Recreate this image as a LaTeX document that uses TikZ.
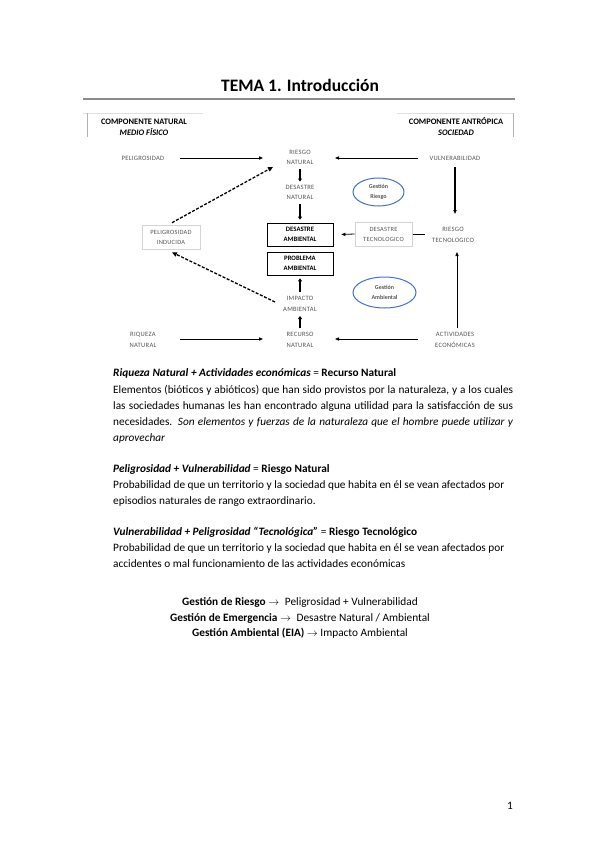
\documentclass[tikz,border=0pt]{standalone}
\usepackage{fontspec}
\setmainfont{Carlito}
\newfontfamily\lblfont[LetterSpace=4]{Carlito}
\usetikzlibrary{calc,arrows.meta,shapes.geometric}
\definecolor{dgray}{HTML}{555555}
\definecolor{lgray}{HTML}{D4D4D4}
\definecolor{eblue}{HTML}{4472C4}
\definecolor{rulegray}{HTML}{8C8C8C}
\begin{document}
\begin{tikzpicture}[x=1pt,y=-1pt,
  lbl/.style={font=\lblfont\fontsize{6.6}{10.5}\selectfont, text=dgray, align=center, inner sep=1pt},
  comp/.style={font=\bfseries\fontsize{8.4}{11}\selectfont, align=center, inner sep=0pt},
  boxb/.style={draw=black, line width=0.7pt, minimum width=66pt, minimum height=23pt, font=\bfseries\fontsize{6.7}{10}\selectfont, align=center, inner sep=0pt},
  boxg/.style={draw=lgray, line width=0.6pt, font=\lblfont\fontsize{6.4}{10}\selectfont, text=dgray, align=center, inner sep=0pt},
  ell/.style={ellipse, draw=eblue, line width=1pt, font=\bfseries\fontsize{6}{9.5}\selectfont, text=dgray, align=center, inner sep=0pt},
  arr/.style={-{Triangle[length=4pt,width=3.2pt]}, line width=0.8pt},
  tarr/.style={-{Triangle[length=3pt,width=4pt]}, line width=1.4pt},
  darr/.style={-{Triangle[length=5pt,width=4.5pt]}, line width=1.3pt, dash pattern=on 3pt off 1.6pt},
  body/.style={font=\fontsize{11.3}{16}\selectfont, anchor=base west, inner sep=0pt},
  cbody/.style={font=\fontsize{11.3}{16}\selectfont, anchor=base, inner sep=0pt}
]
\path[fill=white, use as bounding box] (0,0) rectangle (599,848);

% title
\node[font=\bfseries\fontsize{17.5}{20}\selectfont, inner sep=0pt] (title) at (300,85) {TEMA 1. Introducción};
\draw[rulegray, line width=1.3pt] (83,99) -- (515,99);

% component frames
\draw[black!12, line width=0.8pt] (83,113) -- (203,113);
\draw[black!30, line width=0.8pt] (87,113) -- (87,137);
\draw[black!12, line width=0.8pt] (397,113) -- (513,113);
\draw[black!30, line width=0.8pt] (513,113) -- (513,137);
\node[comp] (compn) at (144,127) {COMPONENTE NATURAL\\\textit{MEDIO FÍSICO}};
\node[comp] (compa) at (456,127) {COMPONENTE ANTRÓPICA\\\textit{SOCIEDAD}};

% nodes
\node[lbl] (pel) at (143,158) {PELIGROSIDAD};
\node[lbl] (rn) at (300,157.5) {RIESGO\\NATURAL};
\node[lbl] (vul) at (455,158) {VULNERABILIDAD};
\node[lbl] (dn) at (300,192.5) {DESASTRE\\NATURAL};
\node[ell, minimum width=51pt, minimum height=28pt] (gr) at (378.5,192) {Gestión\\Riesgo};
\node[boxb] (da) at (300,234.5) {DESASTRE\\AMBIENTAL};
\node[boxb] (pa) at (300,263.5) {PROBLEMA\\AMBIENTAL};
\node[boxg, minimum width=57pt, minimum height=24pt] (dt) at (383.5,234) {DESASTRE\\TECNOLOGICO};
\node[lbl] (rt) at (453,235) {RIESGO\\TECNOLOGICO};
\node[boxg, minimum width=58pt, minimum height=24pt] (pi) at (171,237) {PELIGROSIDAD\\INDUCIDA};
\node[lbl] (ia) at (300,304) {IMPACTO\\AMBIENTAL};
\node[ell, minimum width=63pt, minimum height=31pt] (ga) at (384.5,292.5) {Gestión\\Ambiental};
\node[lbl] (rec) at (300,340) {RECURSO\\NATURAL};
\node[lbl] (riq) at (143,340) {RIQUEZA\\NATURAL};
\node[lbl] (act) at (455,340) {ACTIVIDADES\\ECONÓMICAS};

% connectors
\draw[arr] ($(pel.center)+(37,0)$) -- ($(rn.center)+(-37,0.5)$);
\draw[arr] ($(vul.center)+(-37,0)$) -- ($(rn.center)+(35,0.5)$);
\draw[tarr] ($(rn.center)+(0,11.5)$) -- ($(dn.center)+(0,-11)$);
\draw[tarr, shorten >=3pt] ($(dn.center)+(0,11.5)$) -- (da.north);
\draw[tarr, shorten >=3pt] ($(ia.center)+(0,-12)$) -- (pa.south);
\draw[tarr] ($(rec.center)+(0,-12)$) -- ($(ia.center)+(0,12)$);
\draw[arr, line width=1.2pt] ($(vul.center)+(0,9)$) -- ($(vul.center |- rt.center)+(0,-21)$);
\draw[arr] ($(act.center)+(2,-12)$) -- ($(act.center |- rt.center)+(2,17)$);
\draw[line width=0.8pt] ($(rt.center)+(-28,-1)$) -- ($(dt.east)+(1,0)$);
\draw[arr] (dt.west) -- ($(da.east)+(8,0)$);
\draw[arr] ($(riq.center)+(37,-1)$) -- ($(rec.center)+(-37,-1)$);
\draw[arr] ($(act.center)+(-37,-1)$) -- ($(rec.center)+(35,-1)$);
\draw[darr] ($(pi.north)+(1,-2)$) -- ($(rn.center)+(-27,9.5)$);
\draw[darr] ($(ia.center)+(-25,-2)$) -- ($(pi.south)+(1,3)$);

% body text
\node[body] (h1) at (113,376) {\textbf{\textit{Riqueza Natural + Actividades económicas}} = \textbf{Recurso Natural}};
\node[body] (p1a) at (113,393) {\makebox[400pt][s]{Elementos (bióticos y abióticos) que han sido provistos por la naturaleza, y a los cuales}};
\node[body] (p1b) at (113,409) {\makebox[400pt][s]{las sociedades humanas les han encontrado alguna utilidad para la satisfacción de sus}};
\node[body] (p1c) at (113,425) {\makebox[400pt][s]{necesidades. \textit{Son elementos y fuerzas de la naturaleza que el hombre puede utilizar y}}};
\node[body] (p1d) at (113,441) {\textit{aprovechar}};

\node[body] (h2) at (113,472) {\textbf{\textit{Peligrosidad + Vulnerabilidad}} = \textbf{Riesgo Natural}};
\node[body] (p2a) at (113,488) {Probabilidad de que un territorio y la sociedad que habita en él se vean afectados por};
\node[body] (p2b) at (113,504) {episodios naturales de rango extraordinario.};

\node[body] (h3) at (113,535) {\textbf{\textit{Vulnerabilidad + Peligrosidad “Tecnológica”}} = \textbf{Riesgo Tecnológico}};
\node[body] (p3a) at (113,551) {Probabilidad de que un territorio y la sociedad que habita en él se vean afectados por};
\node[body] (p3b) at (113,567) {accidentes o mal funcionamiento de las actividades económicas};

\node[cbody] (g1) at (300,605) {\textbf{Gestión de Riesgo} $\rightarrow$\enspace Peligrosidad + Vulnerabilidad};
\node[cbody] (g2) at (300,621) {\textbf{Gestión de Emergencia} $\rightarrow$\enspace Desastre Natural / Ambiental};
\node[cbody] (g3) at (300,636) {\textbf{Gestión Ambiental (EIA)} $\rightarrow$ Impacto Ambiental};

\node[cbody] (pg) at (510,809) {1};
\end{tikzpicture}
\end{document}
